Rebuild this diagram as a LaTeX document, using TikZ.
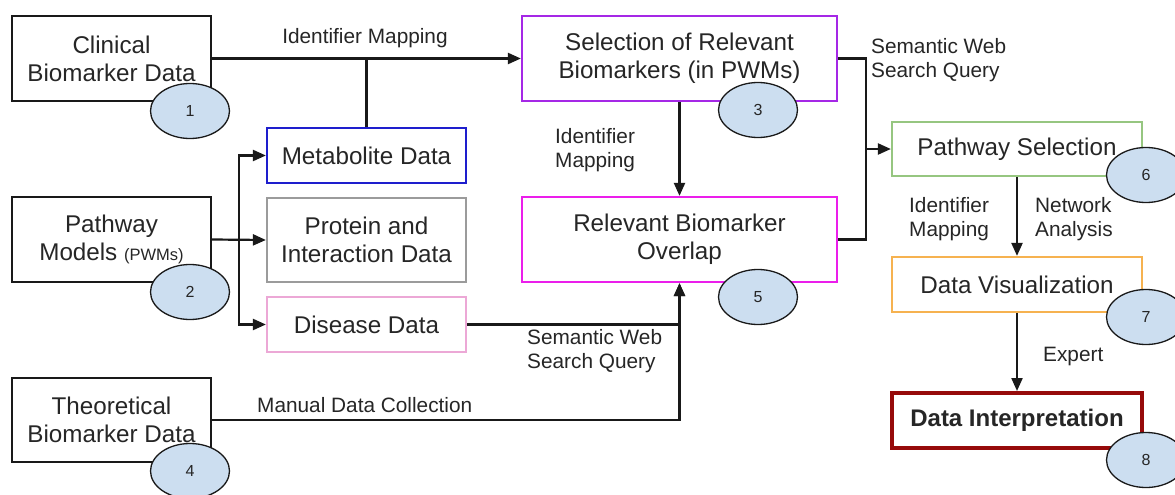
\documentclass[tikz,border=0pt]{standalone}
\usepackage{fontspec}
\setmainfont{Liberation Sans}
\usetikzlibrary{arrows.meta,shapes.geometric,calc}
\definecolor{cdark}{RGB}{25,25,25}
\definecolor{cmeta}{RGB}{30,30,205}
\definecolor{cprot}{RGB}{155,155,155}
\definecolor{cdis}{RGB}{236,168,214}
\definecolor{csel}{RGB}{165,40,230}
\definecolor{covl}{RGB}{235,30,235}
\definecolor{cpath}{RGB}{150,198,128}
\definecolor{cviz}{RGB}{246,178,80}
\definecolor{cint}{RGB}{150,10,10}
\definecolor{cell}{RGB}{204,222,240}
\newcommand{\boxfont}{\fontsize{24.2}{28}\selectfont}
\newcommand{\lblfont}{\fontsize{20.8}{24}\selectfont}
\begin{document}
\begin{tikzpicture}[x=1pt,y=-1pt,
  box/.style={draw=cdark, line width=2.2pt, inner sep=0pt, align=center, font=\boxfont, text=black!85},
  num/.style={ellipse, draw=cdark, line width=1.3pt, fill=cell, minimum width=79pt, minimum height=55pt, inner sep=0pt, font=\fontsize{16}{18}\selectfont, text=black!85},
  lbl/.style={font=\lblfont, align=left, inner sep=0pt, text=black!85},
  conn/.style={draw=cdark, line width=2.2pt},
  arr/.style={conn, -{Triangle[length=13pt,width=11pt]}}]
\fill[white] (0,0) rectangle (1175,495);
\useasboundingbox (0,0) rectangle (1175,495);
% boxes
\node[box, minimum width=199pt, minimum height=85pt] (clin) at (111.5,58.5) {Clinical\\Biomarker Data};
\node[box, minimum width=199pt, minimum height=85pt] (pwm) at (111.5,239.5) {Pathway\\Models {\fontsize{16.5}{18}\selectfont(PWMs)}};
\node[box, minimum width=199pt, minimum height=84pt] (theo) at (111.5,420) {Theoretical\\Biomarker Data};
\node[box, draw=cmeta, minimum width=199pt, minimum height=55pt] (meta) at (366.5,155.5) {Metabolite Data};
\node[box, draw=cprot, minimum width=199pt, minimum height=84pt] (prot) at (366.5,240) {Protein and\\Interaction Data};
\node[box, draw=cdis, minimum width=199pt, minimum height=55pt] (dis) at (366.5,324.5) {Disease Data};
\node[box, draw=csel, minimum width=315pt, minimum height=85pt] (sel) at (679.5,58.5) {Selection of Relevant\\Biomarkers (in PWMs)};
\node[box, draw=covl, minimum width=315pt, minimum height=85pt] (ovl) at (679.5,239.5) {Relevant Biomarker\\Overlap};
\node[box, draw=cpath, minimum width=250pt, minimum height=54pt] (path) at (1017,149) {Pathway Selection};
\node[box, draw=cviz, minimum width=250pt, minimum height=55pt] (viz) at (1017,284.5) {Data Visualization};
\node[box, draw=cint, line width=4pt, minimum width=250pt, minimum height=55pt, font=\fontsize{24}{28}\selectfont\bfseries] (interp) at (1017,420.5) {Data Interpretation};
% connectors
\draw[arr] (clin.east) -- (sel.west);
\draw[conn] (meta.north) -- (meta.north |- clin.east);
\draw[arr] (pwm.east) -- (prot.west);
\coordinate (br) at ($(pwm.east)!0.5!(prot.west)$);
\draw[arr] (br) |- (meta.west);
\draw[arr] (br) |- (dis.west);
\draw[arr] (sel.south) -- (ovl.north);
\draw[arr] (dis.east) -| (ovl.south);
\draw[arr] (theo.east) -| (ovl.south);
\coordinate (vx) at (866,149);
\draw[conn] (sel.east) -| (vx |- ovl.east) -- (ovl.east);
\draw[arr] (vx) -- (path.west);
\draw[arr] (path.south) -- (viz.north);
\draw[arr] (viz.south) -- (interp.north);
% labels
\node[lbl, anchor=center] (l1) at (365,38) {Identifier Mapping};
\node[lbl, anchor=west] (l2) at (555,150) {Identifier\\Mapping};
\node[lbl, anchor=west] (l3) at (871,60) {Semantic Web\\Search Query};
\node[lbl, anchor=west] (l4) at (527,351) {Semantic Web\\Search Query};
\node[lbl, anchor=west] (l5) at (257,405) {Manual Data Collection};
\node[lbl, anchor=west] (l6) at (909,219) {Identifier\\Mapping};
\node[lbl, anchor=west] (l7) at (1035,219) {Network\\Analysis};
\node[lbl, anchor=west] (l8) at (1043,356) {Expert};
% number ellipses
\node[num] (n1) at (190,111) {1};
\node[num] (n2) at (190,292) {2};
\node[num] (n3) at (758,110) {3};
\node[num] (n4) at (190,471) {4};
\node[num] (n5) at (758,297) {5};
\node[num] (n6) at (1146,175) {6};
\node[num] (n7) at (1146,317) {7};
\node[num] (n8) at (1146,460) {8};
\end{tikzpicture}
\end{document}
